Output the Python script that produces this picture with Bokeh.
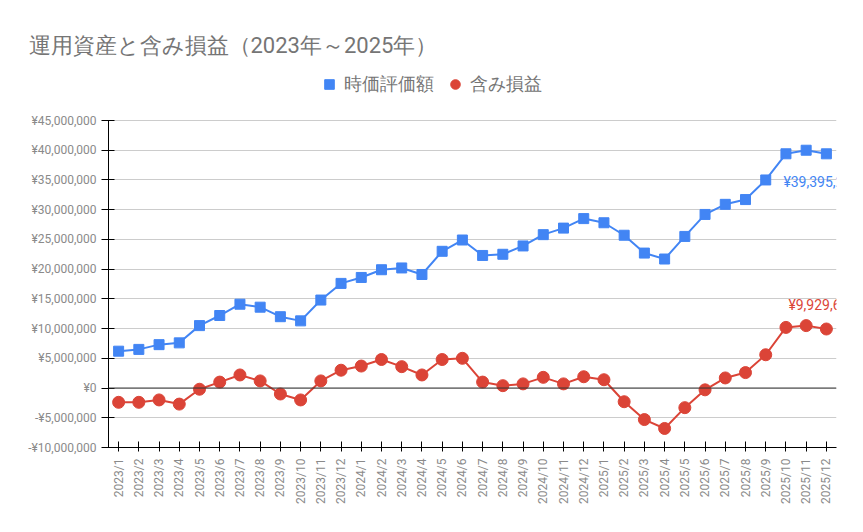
import math
from bokeh.plotting import figure
from bokeh.models import (Range1d, FactorRange, FixedTicker, Span, Legend, LegendItem,
                          Label, Title, CustomJSTickFormatter, ColumnDataSource)
from bokeh.embed import file_html
from bokeh.resources import INLINE

months = ["2023/1", "2023/2", "2023/3", "2023/4", "2023/5", "2023/6", "2023/7", "2023/8",
          "2023/9", "2023/10", "2023/11", "2023/12",
          "2024/1", "2024/2", "2024/3", "2024/4", "2024/5", "2024/6", "2024/7", "2024/8",
          "2024/9", "2024/10", "2024/11", "2024/12",
          "2025/1", "2025/2", "2025/3", "2025/4", "2025/5", "2025/6", "2025/7", "2025/8",
          "2025/9", "2025/10", "2025/11", "2025/12"]

market_value = [6200000, 6500000, 7300000, 7600000, 10500000, 12200000, 14100000, 13600000,
                12000000, 11300000, 14800000, 17600000,
                18600000, 19900000, 20200000, 19100000, 23000000, 24900000, 22300000, 22500000,
                23900000, 25800000, 26900000, 28500000,
                27800000, 25700000, 22700000, 21700000, 25500000, 29200000, 30900000, 31700000,
                35000000, 39400000, 40000000, 39395243]

unrealized = [-2400000, -2400000, -2000000, -2700000, -200000, 1000000, 2200000, 1200000,
              -1000000, -2000000, 1200000, 3000000,
              3700000, 4800000, 3600000, 2200000, 4800000, 5000000, 1000000, 400000,
              700000, 1800000, 700000, 1900000,
              1400000, -2300000, -5300000, -6800000, -3300000, -300000, 1700000, 2600000,
              5600000, 10200000, 10500000, 9929684]

y_ticks = [-10000000, -5000000, 0, 5000000, 10000000, 15000000, 20000000,
           25000000, 30000000, 35000000, 40000000, 45000000]

series_names = ["時価評価額", "含み損益"]
title_text = "運用資産と含み損益（2023年～2025年）"

BLUE = "#4285F4"
RED = "#DB4437"
FONT = "Roboto"

# layout (pixels): frame top/bottom and where the top gridline sits
FRAME_TOP = 62
GRID_TOP = 120
FRAME_BOTTOM = 447
y_min, y_max = y_ticks[0], y_ticks[-1]
y_end = y_max + (GRID_TOP - FRAME_TOP) * (y_max - y_min) / (FRAME_BOTTOM - GRID_TOP)

src = ColumnDataSource(dict(month=months, mv=market_value, ur=unrealized))

p = figure(width=863, height=532, x_range=FactorRange(*months),
           y_range=Range1d(y_min, y_end),
           output_backend="svg", toolbar_location=None, title=None,
           min_border_left=108, min_border_right=27, min_border_bottom=532 - FRAME_BOTTOM,
           min_border_top=FRAME_TOP)
p.outline_line_color = None
p.background_fill_color = "white"

p.xgrid.grid_line_color = None
p.ygrid.grid_line_color = "#cccccc"
p.ygrid.grid_line_width = 1

p.add_layout(Span(location=0, dimension="width", line_color="#333333", line_width=1))

l1 = p.line("month", "mv", source=src, line_color=BLUE, line_width=2)
s1 = p.scatter("month", "mv", source=src, marker="square", size=10,
               fill_color=BLUE, line_color=BLUE)
l2 = p.line("month", "ur", source=src, line_color=RED, line_width=2)
s2 = p.scatter("month", "ur", source=src, marker="circle", size=12,
               fill_color=RED, line_color=RED)

# axes
for ax in (p.xaxis[0], p.yaxis[0]):
    ax.axis_line_color = "black"
    ax.major_tick_line_color = "black"
    ax.minor_tick_line_color = None
    ax.major_label_text_color = "#8a8a8a"
    ax.major_label_text_font = FONT
    ax.major_label_text_font_size = "12px"

p.yaxis.ticker = FixedTicker(ticks=y_ticks)
p.yaxis.bounds = (y_min, y_max)
p.yaxis.formatter = CustomJSTickFormatter(code="""
    const a = Math.abs(tick);
    const s = a.toString().replace(/\\B(?=(\\d{3})+(?!\\d))/g, ",");
    return (tick < 0 ? "-" : "") + "\\u00a5" + s;
""")
p.yaxis.major_tick_in = 6
p.yaxis.major_tick_out = 7
p.yaxis.major_label_standoff = 5

p.xaxis.major_label_orientation = math.pi / 2
p.xaxis.major_tick_in = 6
p.xaxis.major_tick_out = 4
p.xaxis.major_label_standoff = 7

# end labels (x at the centre of the last month factor)
last_x = len(months) - 0.5
p.add_layout(Label(x=last_x, y=market_value[-1], text="¥{:,}".format(market_value[-1]),
                   x_offset=-43, y_offset=-36, text_color=BLUE, text_font=FONT,
                   text_font_size="14px", text_align="left", text_baseline="bottom"))
p.add_layout(Label(x=last_x, y=unrealized[-1], text="¥{:,}".format(unrealized[-1]),
                   x_offset=-38, y_offset=16, text_color=RED, text_font=FONT,
                   text_font_size="14px", text_align="left", text_baseline="bottom"))

legend = Legend(items=[LegendItem(label=series_names[0], renderers=[s1]),
                       LegendItem(label=series_names[1], renderers=[s2])],
                orientation="horizontal", location=(209, 351),
                label_text_font=FONT, label_text_font_size="18px",
                label_text_color="#757575", glyph_width=24, glyph_height=24,
                label_standoff=3, spacing=9, padding=6, margin=0,
                border_line_color=None, background_fill_alpha=0)
p.add_layout(legend)

# title (nearest the plot) and an empty spacer above it
p.add_layout(Title(text=title_text, text_font=FONT, text_font_size="22px",
                   text_font_style="normal", text_color="#757575", align="left",
                   offset=-80, standoff=10), "above")
p.add_layout(Title(text=" ", text_font=FONT, text_font_size="18px", standoff=0), "above")

open("out.html", "w").write(file_html(p, INLINE))
